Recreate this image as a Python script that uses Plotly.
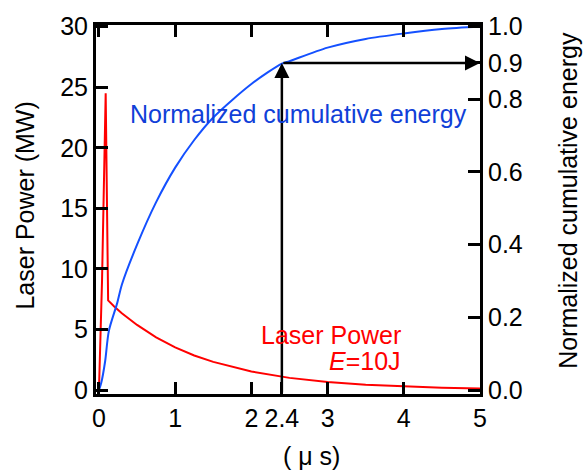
import plotly.graph_objects as go

# ---- data ----
t_power = [0, 0.04, 0.088, 0.12, 0.2, 0.3, 0.5, 0.75, 1.0, 1.25, 1.5, 2.0, 2.5, 3.0, 3.5, 4.0, 4.5, 5.0]
power_mw = [0, 9.0, 24.5, 7.4, 6.9, 6.35, 5.38, 4.36, 3.52, 2.86, 2.33, 1.53, 1.01, 0.67, 0.44, 0.29, 0.19, 0.13]

t_energy = [0, 0.03, 0.08, 0.13, 0.24, 0.3, 0.5, 0.75, 1.0, 1.25, 1.5, 2.0, 2.4, 2.5, 3.0, 3.5, 4.0, 4.5, 5.0]
energy_norm = [0, 0.02, 0.078, 0.163, 0.24, 0.29, 0.40, 0.517, 0.612, 0.688, 0.750, 0.842, 0.898, 0.905, 0.942, 0.966, 0.981, 0.993, 1.0]

x_tickvals = [0, 1, 2, 2.4, 3, 4, 5]
x_ticktext = ["0", "1", "2", "2.4", "3", "4", "5"]
y_tickvals = [0, 5, 10, 15, 20, 25, 30]
y2_tickvals = [0, 0.2, 0.4, 0.6, 0.8, 0.9, 1.0]
y2_ticktext = ["0.0", "0.2", "0.4", "0.6", "0.8", "0.9", "1.0"]
t_mark = 2.4
e_mark = 0.9

FONT = "Liberation Sans, Arial, Helvetica, sans-serif"
FS = 25
RED = "#ff0000"
BLUE = "#1450ff"
BLUE_TXT = "#1040d8"

fig = go.Figure()
fig.add_trace(go.Scatter(x=t_power, y=power_mw, mode="lines",
                         line=dict(color=RED, width=2), yaxis="y", xaxis="x",
                         showlegend=False))
fig.add_trace(go.Scatter(x=t_energy, y=energy_norm, mode="lines",
                         line=dict(color=BLUE, width=2, shape="spline", smoothing=0.8),
                         yaxis="y2", xaxis="x", showlegend=False))

xr = [-0.039, 5.0]
yr = [-0.32, 30.13]
y2r = [yr[0] / 30, yr[1] / 30]

axis_common = dict(showline=True, linecolor="black", linewidth=3,
                   ticks="inside", ticklen=12, tickwidth=3, tickcolor="black",
                   showgrid=False, zeroline=False,
                   tickfont=dict(family=FONT, size=FS, color="black"))

fig.update_layout(
    width=584, height=472,
    margin=dict(l=96, r=104, t=14, b=78),
    paper_bgcolor="white", plot_bgcolor="white",
    font=dict(family=FONT, size=FS, color="black"),
    xaxis=dict(range=xr, tickvals=x_tickvals, ticktext=x_ticktext,
               side="bottom", **axis_common),
    xaxis2=dict(range=xr, tickvals=[0, 1, 2, 3, 4, 5], showticklabels=False,
                overlaying="x", side="top", **axis_common),
    yaxis=dict(range=yr, tickvals=y_tickvals, side="left", **axis_common),
    yaxis2=dict(range=y2r, tickvals=y2_tickvals, ticktext=y2_ticktext,
                overlaying="y", side="right", **axis_common),
)
# empty trace so the top axis is drawn
fig.add_trace(go.Scatter(x=[None], y=[None], xaxis="x2", yaxis="y", showlegend=False))

anns = []
# arrows
anns.append(dict(x=t_mark, y=e_mark, xref="x", yref="y2",
                 ax=t_mark, ay=y2r[0], axref="x", ayref="y2",
                 showarrow=True, arrowhead=2, arrowsize=1.2, arrowwidth=2.5,
                 arrowcolor="black", text=""))
anns.append(dict(x=5.0, y=e_mark, xref="x", yref="y2",
                 ax=t_mark, ay=e_mark, axref="x", ayref="y2",
                 showarrow=True, arrowhead=2, arrowsize=1.2, arrowwidth=2.5,
                 arrowcolor="black", text=""))
# labels
anns.append(dict(x=2.62, y=0.76, xref="x", yref="y2", showarrow=False,
                 text="Normalized cumulative energy", xanchor="center", yanchor="middle",
                 font=dict(family=FONT, size=FS, color=BLUE_TXT)))
anns.append(dict(x=3.99, y=4.57, xref="x", yref="y", showarrow=False,
                 text="Laser Power", xanchor="right", yanchor="middle",
                 font=dict(family=FONT, size=FS, color=RED)))
anns.append(dict(x=3.99, y=2.4, xref="x", yref="y", showarrow=False,
                 text="<i>E</i>=10J", xanchor="right", yanchor="middle",
                 font=dict(family=FONT, size=FS, color=RED)))
# axis titles
anns.append(dict(x=-0.185, y=0.5105, xref="paper", yref="paper", showarrow=False,
                 text="Laser Power (MW)", textangle=-90, xanchor="center", yanchor="middle",
                 font=dict(family=FONT, size=FS, color="black")))
anns.append(dict(x=1.229, y=0.526, xref="paper", yref="paper", showarrow=False,
                 text="Normalized cumulative energy", textangle=-90,
                 xanchor="center", yanchor="middle",
                 font=dict(family=FONT, size=FS, color="black")))
anns.append(dict(x=0.56, y=-0.168, xref="paper", yref="paper", showarrow=False,
                 text="( μ s)", xanchor="center", yanchor="middle",
                 font=dict(family=FONT, size=FS, color="black")))
fig.update_layout(annotations=anns)

fig.write_html("out.html")
